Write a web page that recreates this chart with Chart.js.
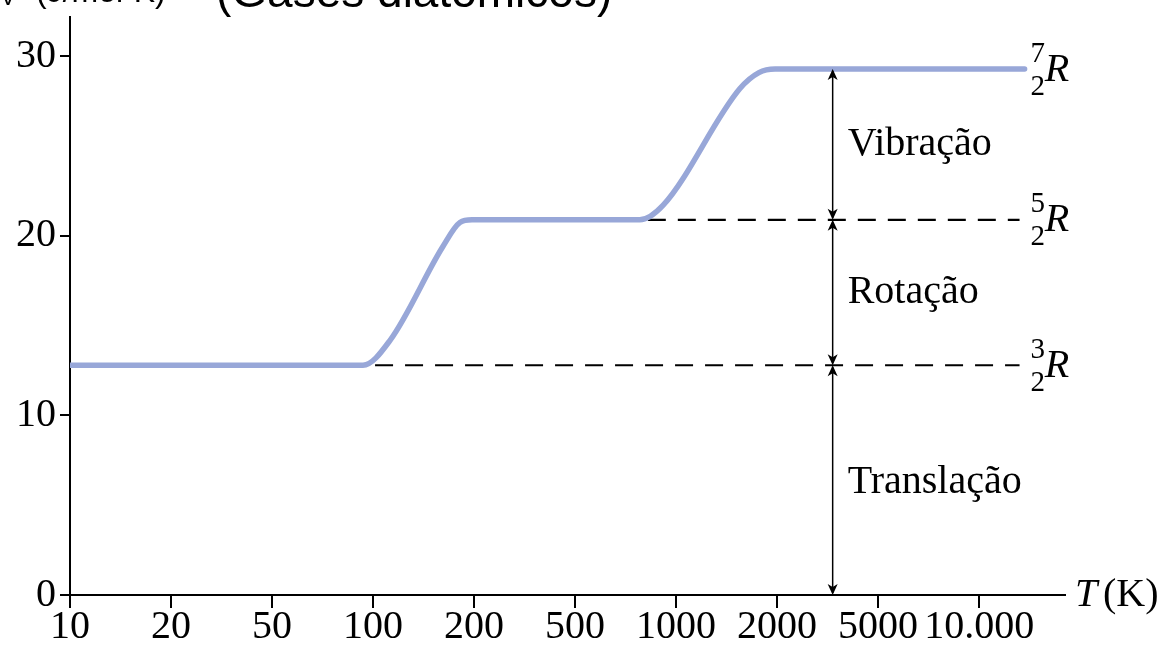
<!DOCTYPE html>
<html>
<head>
<meta charset="utf-8">
<script src="https://cdn.jsdelivr.net/npm/chart.js@4"></script>
<style>
  html, body { margin: 0; padding: 0; background: #fff; }
  #wrap { width: 1166px; height: 646px; }
</style>
</head>
<body>
<div id="wrap"><canvas id="cvChart" width="1166" height="646"></canvas></div>
<script>
// temperature labels, equally spaced along the axis
const tempLabels = ['10', '20', '50', '100', '200', '500', '1000', '2000', '5000', '10.000'];
const yTicks = [0, 10, 20, 30];

// Cv curve (x = label position, y = J/mol·K)
const curveX = [0, 2.9, 3.17, 3.69, 3.86, 3.98, 5.64, 5.87, 6.63, 6.82, 6.98, 9.45];
const curveY = [12.8, 12.8, 14.2, 19.4, 20.75, 20.9, 20.9, 21.7, 28.2, 29.1, 29.3, 29.3];

// plateaus 3/2 R, 5/2 R, 7/2 R
const levels = [12.8, 20.9, 29.3];
const levelNum = ['3', '5', '7'];
const regionNames = ['Translação', 'Rotação', 'Vibração'];

const serif = '"Liberation Serif", "DejaVu Serif", serif';
const sans = '"Liberation Sans", Arial, sans-serif';

const annotations = {
    id: 'annotations',
    afterDatasetsDraw(chart) {
        const c = chart.ctx;
        const xs = chart.scales.x, ys = chart.scales.y;
        const ax = xs.getPixelForValue(7.55);
        c.save();
        c.strokeStyle = '#000';
        c.fillStyle = '#000';
        c.lineWidth = 1.5;

        // double arrows between the plateaus
        const bounds = [0].concat(levels);
        for (let i = 0; i < 3; i++) {
            const yb = ys.getPixelForValue(bounds[i]);
            const yt = ys.getPixelForValue(bounds[i + 1]);
            c.beginPath();
            c.moveTo(ax, yb - 2);
            c.lineTo(ax, yt + 2);
            c.stroke();
            [[yb, -1], [yt, 1]].forEach(([tip, dir]) => {
                c.beginPath();
                c.moveTo(ax, tip);
                c.lineTo(ax - 5, tip + dir * 11);
                c.lineTo(ax, tip + dir * 8);
                c.lineTo(ax + 5, tip + dir * 11);
                c.closePath();
                c.fill();
            });
            // region name
            c.font = '40px ' + serif;
            c.textAlign = 'left';
            c.textBaseline = 'middle';
            const mid = (yb + yt) / 2 + (i === 0 ? 2 : 0);
            c.fillText(regionNames[i], ax + 15, mid);
        }

        // fraction labels n/2 R
        const fx = xs.getPixelForValue(9.58);
        levels.forEach((v, i) => {
            const y = ys.getPixelForValue(v);
            c.font = '29px ' + serif;
            c.textAlign = 'center';
            c.textBaseline = 'middle';
            c.fillText(levelNum[i], fx, y - 15);
            c.fillText('2', fx, y + 18);
            c.font = 'italic 40px ' + serif;
            c.textAlign = 'left';
            c.fillText('R', fx + 7, y + 1);
        });

        // axis title T (K)
        const by = ys.getPixelForValue(0);
        c.textBaseline = 'middle';
        c.textAlign = 'left';
        c.font = 'italic 40px ' + serif;
        c.fillText('T', 1075, by);
        c.font = '40px ' + serif;
        c.fillText('(K)', 1103, by);

        // chart title, mostly cut off at the top
        c.textBaseline = 'alphabetic';
        c.font = '34px ' + sans;
        c.fillText('C', -24, 0);
        c.font = '24px ' + sans;
        c.fillText('V', 0, 5);
        c.font = '32px ' + sans;
        c.fillText('(J/mol·K)', 36, 2);
        c.font = '46px ' + sans;
        c.fillText('(Gases diatômicos)', 216, 7);
        c.restore();
    }
};

const ctx = document.getElementById('cvChart').getContext('2d');

new Chart(ctx, {
    type: 'line',
    data: {
        datasets: [
            {
                data: curveX.map((x, i) => ({ x: x, y: curveY[i] })),
                borderColor: '#98a7d8',
                borderWidth: 5.5,
                pointRadius: 0,
                cubicInterpolationMode: 'monotone',
                borderCapStyle: 'round'
            },
            {
                data: [{ x: 3.02, y: levels[0] }, { x: 9.4, y: levels[0] }],
                borderColor: '#000',
                borderWidth: 2.2,
                borderDash: [18, 12],
                pointRadius: 0
            },
            {
                data: [{ x: 5.72, y: levels[1] }, { x: 9.4, y: levels[1] }],
                borderColor: '#000',
                borderWidth: 2.2,
                borderDash: [18, 12],
                pointRadius: 0
            }
        ]
    },
    options: {
        responsive: false,
        animation: false,
        events: [],
        layout: {
            autoPadding: false,
            padding: { top: 17, right: 101, left: 0, bottom: 0 }
        },
        plugins: {
            legend: { display: false },
            tooltip: { enabled: false }
        },
        scales: {
            x: {
                type: 'linear',
                min: 0,
                max: 9.85,
                afterBuildTicks: s => { s.ticks = tempLabels.map((t, i) => ({ value: i })); },
                afterFit: s => { s.height = 51; s.paddingLeft = 0; s.paddingRight = 0; },
                ticks: {
                    callback: (v, i) => tempLabels[i],
                    font: { family: serif, size: 40 },
                    color: '#000',
                    maxRotation: 0,
                    autoSkip: false,
                    padding: -5
                },
                grid: { drawOnChartArea: false, tickLength: 13, color: '#000', lineWidth: 2 },
                border: { color: '#000', width: 2 }
            },
            y: {
                min: 0,
                max: 32.2,
                afterBuildTicks: s => { s.ticks = yTicks.map(v => ({ value: v })); },
                afterFit: s => { s.width = 70; s.paddingTop = 0; s.paddingBottom = 0; },
                ticks: {
                    font: { family: serif, size: 40 },
                    color: '#000',
                    padding: 4
                },
                grid: { drawOnChartArea: false, tickLength: 10, color: '#000', lineWidth: 2 },
                border: { color: '#000', width: 2 }
            }
        }
    },
    plugins: [annotations]
});
</script>
</body>
</html>
